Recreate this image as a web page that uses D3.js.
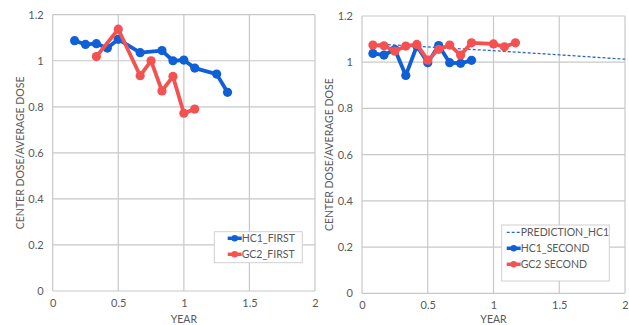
<!DOCTYPE html>
<html>
<head>
<meta charset="utf-8">
<script src="https://cdn.jsdelivr.net/npm/d3@7"></script>
<style>
body{margin:0;background:#fff;}
text{font-family:Lato,"Open Sans",sans-serif;fill:#595959;}
</style>
</head>
<body>
<svg width="629" height="325"></svg>
<script>
// tick labels
var xTicks = [0, 0.5, 1, 1.5, 2];
var yTicks = [0, 0.2, 0.4, 0.6, 0.8, 1, 1.2];

// left chart
var hc1FirstX = [0.167, 0.25, 0.333, 0.417, 0.5, 0.667, 0.833, 0.917, 1.0, 1.083, 1.25, 1.333];
var hc1FirstY = [1.087, 1.071, 1.074, 1.055, 1.093, 1.035, 1.044, 1.0, 1.003, 0.968, 0.942, 0.863];
var gc2FirstX = [0.333, 0.5, 0.667, 0.75, 0.833, 0.917, 1.0, 1.083];
var gc2FirstY = [1.018, 1.137, 0.935, 1.0, 0.869, 0.932, 0.772, 0.79];

// right chart
var predX = [0.083, 0.5, 1, 1.5, 2];
var predY = [1.08, 1.066, 1.05, 1.032, 1.013];
var hc1SecondX = [0.083, 0.167, 0.25, 0.333, 0.417, 0.5, 0.583, 0.667, 0.75, 0.833];
var hc1SecondY = [1.038, 1.031, 1.055, 0.943, 1.07, 0.998, 1.072, 0.998, 0.995, 1.008];
var gc2SecondX = [0.083, 0.167, 0.25, 0.333, 0.417, 0.5, 0.583, 0.667, 0.75, 0.833, 1.0, 1.083, 1.167];
var gc2SecondY = [1.074, 1.071, 1.048, 1.07, 1.077, 1.009, 1.056, 1.074, 1.031, 1.084, 1.079, 1.067, 1.084];

var blue = "#0f5fd6";
var red = "#f45252";
var grid = "#c8c8c8";

var svg = d3.select("svg");

function zip(xs, ys){
  return xs.map((x,i)=>({x:x, y:ys[i]}));
}

function drawChart(box, series, legend){
  var g = svg.append("g");
  var x = d3.scaleLinear().domain([0,2]).range([box.left, box.right]);
  var y = d3.scaleLinear().domain([0,1.2]).range([box.bottom, box.top]);

  // gridlines
  g.selectAll(".hg").data(yTicks).enter().append("line")
    .attr("x1", box.left).attr("x2", box.right)
    .attr("y1", d=>y(d)).attr("y2", d=>y(d))
    .attr("stroke", grid).attr("stroke-width", 1.2);
  g.selectAll(".vg").data(xTicks).enter().append("line")
    .attr("y1", box.top).attr("y2", box.bottom)
    .attr("x1", d=>x(d)).attr("x2", d=>x(d))
    .attr("stroke", grid).attr("stroke-width", 1.2);

  // axis labels via d3 axes with no domain/ticks
  var ya = g.append("g").attr("transform", "translate(" + box.left + ",0)")
    .call(d3.axisLeft(y).tickValues(yTicks).tickSize(0).tickPadding(9).tickFormat(d3.format("")));
  ya.select(".domain").remove();
  ya.selectAll("text").attr("font-size", 11).attr("fill", "#595959").style("font-family", "Lato");

  var xa = g.append("g").attr("transform", "translate(0," + box.bottom + ")")
    .call(d3.axisBottom(x).tickValues(xTicks).tickSize(0).tickPadding(8).tickFormat(d3.format("")));
  xa.select(".domain").remove();
  xa.selectAll("text").attr("font-size", 11).attr("fill", "#595959").style("font-family", "Lato");

  g.append("text").attr("x", (box.left+box.right)/2).attr("y", 322.5)
    .attr("text-anchor", "middle").attr("font-size", 10.5).text("YEAR");
  g.append("text")
    .attr("transform", "translate(" + (box.left - 29) + "," + ((box.top+box.bottom)/2) + ") rotate(-90)")
    .attr("text-anchor", "middle").attr("font-size", 10.5).text("CENTER DOSE/AVERAGE DOSE");

  var line = d3.line().x(d=>x(d.x)).y(d=>y(d.y));

  series.forEach(function(s){
    var data = zip(s.xs, s.ys);
    g.append("path").datum(data).attr("d", line)
      .attr("fill", "none").attr("stroke", s.color)
      .attr("stroke-width", s.dash ? 1.3 : 3.8)
      .attr("stroke-dasharray", s.dash ? "3,2" : null)
      .attr("stroke-linejoin", "round");
    if(!s.dash){
      g.selectAll(null).data(data).enter().append("circle")
        .attr("cx", d=>x(d.x)).attr("cy", d=>y(d.y)).attr("r", 4.6)
        .attr("fill", s.color);
    }
  });

  // legend
  var lg = g.append("g");
  lg.append("rect").attr("x", legend.x).attr("y", legend.y)
    .attr("width", legend.w).attr("height", legend.h)
    .attr("fill", "#fff").attr("stroke", "#d0d0d0").attr("stroke-width", 1);
  series.forEach(function(s, i){
    var ly = legend.y + legend.first + i*16;
    var lx = legend.x + legend.pad;
    lg.append("line").attr("x1", lx).attr("x2", lx + 14).attr("y1", ly).attr("y2", ly)
      .attr("stroke", s.color).attr("stroke-width", s.dash ? 1.3 : 3.5)
      .attr("stroke-dasharray", s.dash ? "3,2" : null);
    if(!s.dash){
      lg.append("circle").attr("cx", lx + 7).attr("cy", ly).attr("r", 3.2).attr("fill", s.color);
    }
    lg.append("text").attr("x", lx + 14).attr("y", ly + 4)
      .attr("font-size", 10.5).text(s.name);
  });
}

drawChart({left:52.7, right:315, top:14.7, bottom:291},
  [{name:"HC1_FIRST", xs:hc1FirstX, ys:hc1FirstY, color:blue},
   {name:"GC2_FIRST", xs:gc2FirstX, ys:gc2FirstY, color:red}],
  {x:214.3, y:231.7, w:88, h:31, first:6.6, pad:13.4});

drawChart({left:362, right:625, top:16, bottom:293.3},
  [{name:"PREDICTION_HC1", xs:predX, ys:predY, color:"#2a66cc", dash:true},
   {name:"HC1_SECOND", xs:hc1SecondX, ys:hc1SecondY, color:blue},
   {name:"GC2 SECOND", xs:gc2SecondX, ys:gc2SecondY, color:red}],
  {x:501.7, y:225, w:107.6, h:56, first:7.3, pad:5});
</script>
</body>
</html>
